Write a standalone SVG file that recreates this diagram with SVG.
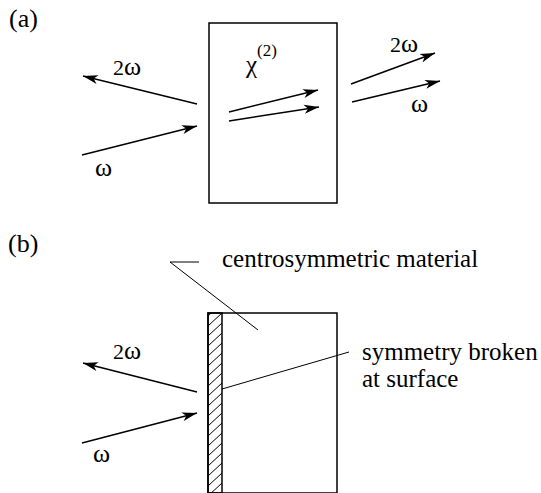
<svg xmlns="http://www.w3.org/2000/svg" width="541" height="493" viewBox="0 0 541 493">
<defs>
<marker id="ah" markerWidth="16" markerHeight="10" refX="15" refY="5" orient="auto" markerUnits="userSpaceOnUse">
<path d="M0,0.5 L15,5 L0,9.5 L4,5 Z" fill="#000"/>
</marker>
<pattern id="hatch" patternUnits="userSpaceOnUse" width="14" height="10" x="208" y="313">
<path d="M0,13 L14,0 M0,3 L14,-10 M0,23 L14,10" stroke="#000" stroke-width="1"/>
</pattern>
<style>
.t{font-family:'Liberation Serif','Times New Roman',serif;font-size:25px;fill:#000}
.w{font-size:22px}
.o{font-size:26px}
.ln{stroke:#000;stroke-width:1;fill:none}
.ar{stroke:#000;stroke-width:1.5;fill:none;marker-end:url(#ah)}
.bx{stroke:#000;stroke-width:1.5;fill:#fff}
</style>
</defs>
<g class="t">
<text x="9" y="27" font-size="26">(a)</text>
<text x="8" y="252" font-size="26">(b)</text>
</g>
<g id="crystal">
<rect class="bx" x="209" y="23" width="128" height="180"/>
<text class="t" x="246" y="73" font-size="27">χ<tspan font-size="17" dy="-17">(2)</tspan></text>
</g>
<g id="material">
<rect class="bx" x="208" y="313" width="129" height="180"/>
<rect x="208" y="313" width="14" height="180" fill="url(#hatch)" stroke="#000" stroke-width="1.5"/>
</g>
<g id="labels" class="t">
<text class="w" x="113" y="75">2<tspan class="o">ω</tspan></text>
<text class="o" x="95" y="176">ω</text>
<text class="w" x="390" y="52">2<tspan class="o">ω</tspan></text>
<text class="o" x="411" y="112">ω</text>
<text class="w" x="113" y="359">2<tspan class="o">ω</tspan></text>
<text class="o" x="93" y="462">ω</text>
<text x="222" y="267">centrosymmetric material</text>
<text x="362" y="360">symmetry broken</text>
<text x="362" y="387">at surface</text>
</g>
<g id="connectors">
<line class="ar" x1="197" y1="104" x2="83" y2="76"/>
<line class="ar" x1="82" y1="155" x2="197" y2="126"/>
<line class="ar" x1="229" y1="112" x2="318" y2="90"/>
<line class="ar" x1="229" y1="121" x2="319" y2="107"/>
<line class="ar" x1="351" y1="84" x2="435" y2="53"/>
<line class="ar" x1="352" y1="102" x2="440" y2="81"/>
<line class="ar" x1="197" y1="392" x2="83" y2="363"/>
<line class="ar" x1="82" y1="443" x2="197" y2="413"/>
<polyline class="ln" points="199,262 170,262 258,330"/>
<line class="ln" x1="222" y1="389" x2="349" y2="352"/>
</g>
</svg>
